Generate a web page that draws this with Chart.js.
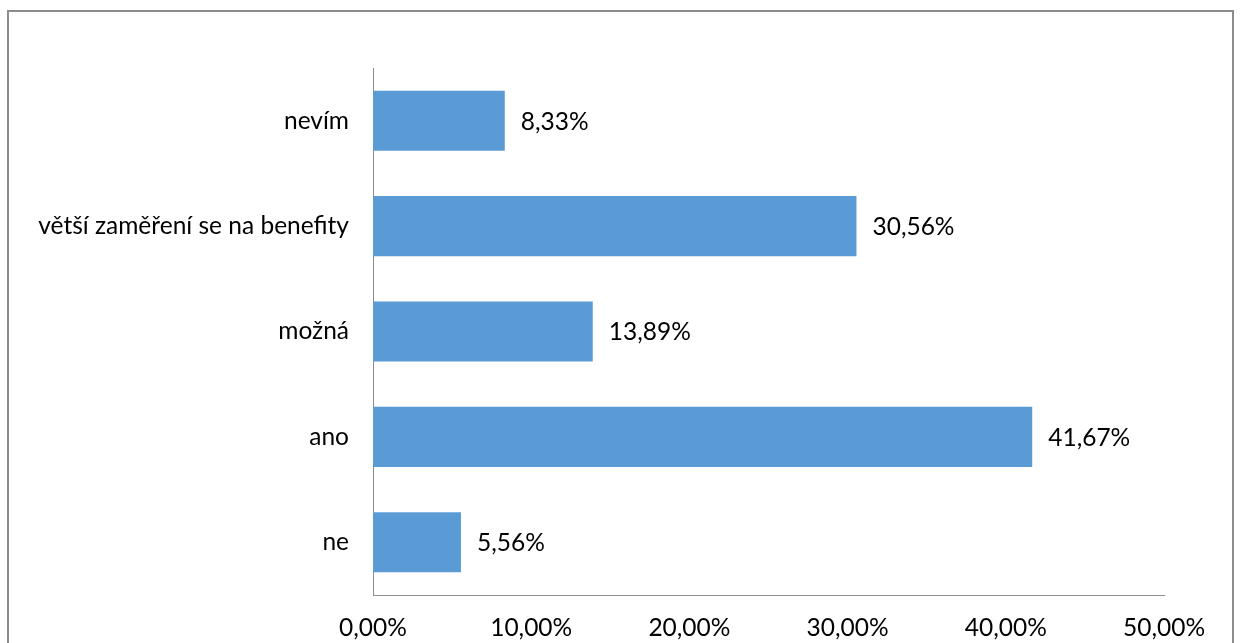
<!DOCTYPE html>
<html>
<head>
<meta charset="utf-8">
<script src="https://cdn.jsdelivr.net/npm/chart.js@4.4.1/dist/chart.umd.min.js"></script>
<style>
  html, body { margin: 0; padding: 0; background: #fff; overflow: hidden; }
  #wrap { position: relative; width: 1243px; height: 643px; }
  #frame { position: absolute; left: 7px; top: 10px; width: 1227px; height: 700px; border: 2px solid #8c8c8c; box-sizing: border-box; }
  canvas { position: absolute; left: 0; top: 0; }
</style>
</head>
<body>
<div id="wrap">
  <div id="frame"></div>
  <canvas id="chart" width="1243" height="643"></canvas>
</div>
<script>
// answers, top to bottom
const categories = ['nevím', 'větší zaměření se na benefity', 'možná', 'ano', 'ne'];
const shares = [8.33, 30.56, 13.89, 41.67, 5.56];
const xTicks = [0, 10, 20, 30, 40, 50];

const FONT = { family: 'Lato, "Open Sans", sans-serif', size: 24.5 };

// format like 41,67%
const pct = v => v.toFixed(2).replace('.', ',') + '%';

// value labels to the right of each bar
const barLabels = {
  id: 'barLabels',
  afterDatasetsDraw(chart) {
    const ctx = chart.ctx;
    const meta = chart.getDatasetMeta(0);
    ctx.save();
    ctx.font = FONT.size + 'px ' + FONT.family;
    ctx.fillStyle = '#000';
    ctx.textBaseline = 'middle';
    ctx.textAlign = 'left';
    meta.data.forEach((bar, i) => {
      ctx.fillText(pct(shares[i]), bar.x + 16, bar.y + 1);
    });
    ctx.restore();
  }
};

new Chart(document.getElementById('chart'), {
  type: 'bar',
  data: {
    labels: categories,
    datasets: [{
      data: shares,
      backgroundColor: '#5b9bd5',
      borderWidth: 0,
      barPercentage: 0.57,
      categoryPercentage: 1
    }]
  },
  options: {
    indexAxis: 'y',
    responsive: false,
    animation: false,
    layout: { padding: { top: 68, right: 79, left: 0, bottom: 0 } },
    plugins: { legend: { display: false }, tooltip: { enabled: false } },
    scales: {
      x: {
        min: 0,
        max: 50,
        afterBuildTicks: axis => { axis.ticks = xTicks.map(v => ({ value: v })); },
        afterFit: axis => { axis.height = 48; },
        grid: { display: false, drawTicks: false },
        border: { display: true, color: '#8c8c8c', width: 1 },
        ticks: {
          padding: 18,
          color: '#000',
          font: FONT,
          maxRotation: 0,
          callback: v => pct(v)
        }
      },
      y: {
        afterFit: axis => { axis.width = 373; },
        grid: { display: false, drawTicks: false },
        border: { display: true, color: '#8c8c8c', width: 1 },
        ticks: { padding: 24, color: '#000', font: FONT }
      }
    }
  },
  plugins: [barLabels]
});
</script>
</body>
</html>
